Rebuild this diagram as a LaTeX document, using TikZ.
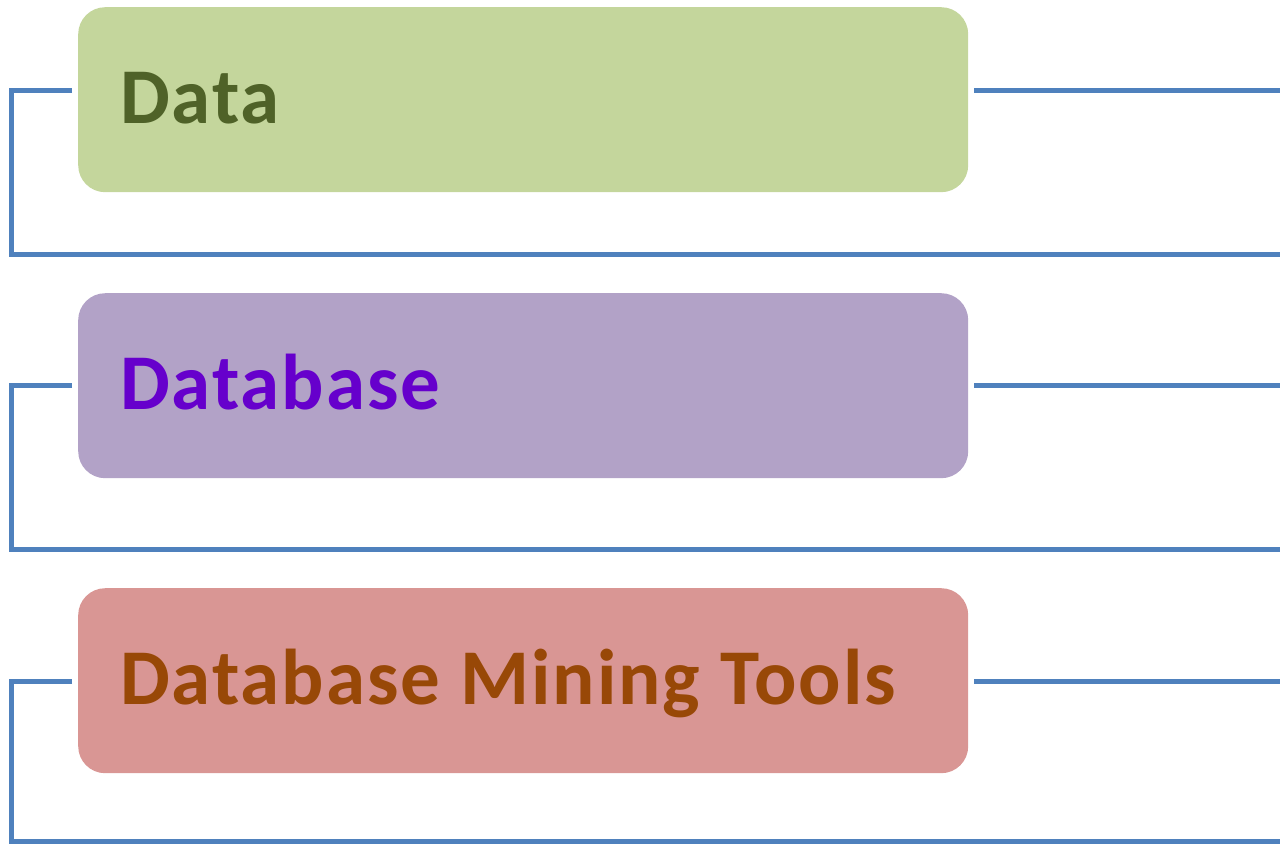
\documentclass[tikz,border=0pt]{standalone}
\usepackage{fontspec}
\setmainfont{Carlito}
\usetikzlibrary{calc}
\definecolor{lineblue}{HTML}{4F81BD}
\definecolor{gfill}{HTML}{C4D69C}
\definecolor{gtext}{HTML}{4F6228}
\definecolor{pfill}{HTML}{B2A2C7}
\definecolor{ptext}{HTML}{6600CC}
\definecolor{rfill}{HTML}{D99694}
\definecolor{rtext}{HTML}{984807}
\begin{document}
\begin{tikzpicture}[x=1pt,y=1pt,
  box/.style={rounded corners=27pt, minimum width=890pt, minimum height=185pt, inner sep=0pt, anchor=north west, draw=none},
  lbl/.style={anchor=base west, font=\fontsize{79}{82}\selectfont\bfseries\addfontfeatures{LetterSpace=2.5}, inner sep=0pt},
  conn/.style={draw=lineblue, line width=5pt, line join=miter}]
\useasboundingbox (0,0) rectangle (1280,-844);
% boxes
\node[box, fill=gfill] (b1) at (78,-7) {};
\node[box, fill=pfill] (b2) at (78,-293) {};
\node[box, fill=rfill] (b3) at (78,-588) {};
% labels
\node[lbl, text=gtext] (t1) at (120,-123) {Data};
\node[lbl, text=ptext] (t2) at (120,-409) {Database};
\node[lbl, text=rtext] (t3) at (120,-704) {Database Mining Tools};
% connector points
\coordinate (l1) at (72,-90);   \coordinate (r1) at (974,-90);
\coordinate (e1) at (1280,-90); \coordinate (f1) at (1280,-254);
\coordinate (l2) at (72,-385);  \coordinate (r2) at (974,-385);
\coordinate (e2) at (1280,-385); \coordinate (f2) at (1280,-549);
\coordinate (l3) at (72,-681);  \coordinate (r3) at (974,-681);
\coordinate (e3) at (1280,-681); \coordinate (f3) at (1280,-841);
% connectors
\draw[conn] (l1) -- (11,-90) |- (f1);
\draw[conn] (r1) -- (e1);
\draw[conn] (l2) -- (11,-385) |- (f2);
\draw[conn] (r2) -- (e2);
\draw[conn] (l3) -- (11,-681) |- (f3);
\draw[conn] (r3) -- (e3);
\end{tikzpicture}
\end{document}
